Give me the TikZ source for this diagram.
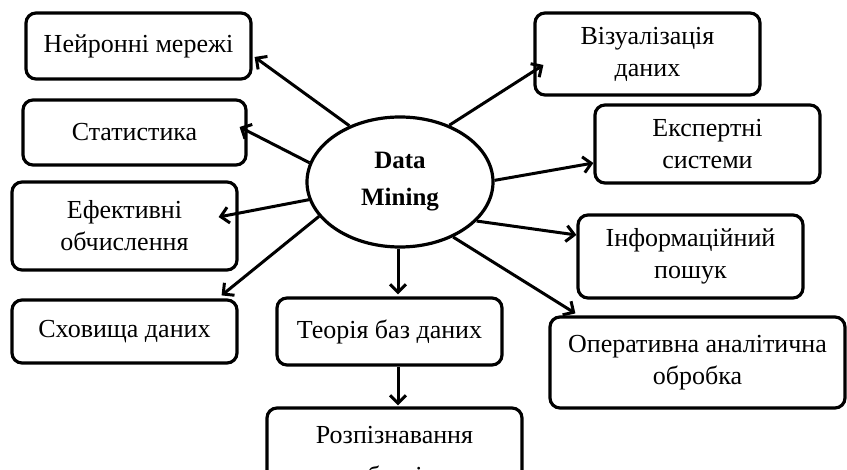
\documentclass[tikz,border=0pt]{standalone}
\usepackage{fontspec}
\setmainfont{Liberation Serif}
\usetikzlibrary{arrows.meta,shapes.geometric}
\begin{document}
\begin{tikzpicture}[x=1pt,y=-1pt,
  box/.style={draw,line width=3.2pt,rounded corners=10pt,align=center,inner sep=0pt,
    font=\fontsize{26}{32}\selectfont},
  arr/.style={line width=3pt,-{Straight Barb[length=8pt,width=16pt]}},
 ]
\useasboundingbox (0,0) rectangle (847,470);
\clip (0,0) rectangle (847,470);
\fill[white] (0,0) rectangle (847,470);

\node[draw,ellipse,line width=3.2pt,minimum width=186pt,minimum height=130pt,inner sep=0pt,
  align=center,font=\fontsize{25}{37}\selectfont\bfseries] (dm) at (400,182) {Data\\Mining};

\node[box,minimum width=225pt,minimum height=66pt] (nn) at (138.5,46) {Нейронні мережі};
\node[box,minimum width=223pt,minimum height=65pt] (st) at (134.5,132.5) {Статистика};
\node[box,minimum width=225pt,minimum height=88pt] (ef) at (124.5,226) {Ефективні\\обчислення};
\node[box,minimum width=225pt,minimum height=63pt] (sh) at (124.5,331.5) {Сховища даних};
\node[box,minimum width=225pt,minimum height=67pt] (tb) at (389.5,331.5) {Теорія баз даних};
\node[box,minimum width=255pt,minimum height=100pt,font=\fontsize{26}{41}\selectfont] (rz) at (394.5,458) {Розпізнавання\\образів};
\node[box,minimum width=225pt,minimum height=82pt] (vz) at (647.5,54) {Візуалізація\\даних};
\node[box,minimum width=225pt,minimum height=78pt] (ek) at (707.5,144) {Експертні\\системи};
\node[box,minimum width=225pt,minimum height=83pt] (inf) at (690.5,256.5) {Інформаційний\\пошук};
\node[box,minimum width=295pt,minimum height=91pt] (op) at (697.5,362.5) {Оперативна аналітична\\обробка};

\draw[arr] (dm.132) -- ([xshift=2pt,yshift=-11pt]nn.east);
\draw[arr] (dm.168) -- ([xshift=-8pt,yshift=5.5pt]st.east);
\draw[arr] (dm.191) -- ([xshift=-20pt,yshift=9pt]ef.east);
\draw[arr] (dm.203) -- ([xshift=-17pt,yshift=3pt]sh.north east);
\draw[arr] ([xshift=-2pt]dm.south) -- ([xshift=8.5pt,yshift=2pt]tb.north);
\draw[arr] ([xshift=8.5pt]tb.south) -- ([xshift=3.5pt,yshift=1pt]rz.north);
\draw[arr] (dm.49) -- ([xshift=10pt,yshift=-11pt]vz.west);
\draw[arr] (dm.1) -- ([yshift=-19pt]ek.west);
\draw[arr] (dm.333) -- ([yshift=21.5pt]inf.west);
\draw[arr] (dm.314) -- ([xshift=27pt,yshift=2pt]op.north west);
\end{tikzpicture}
\end{document}
